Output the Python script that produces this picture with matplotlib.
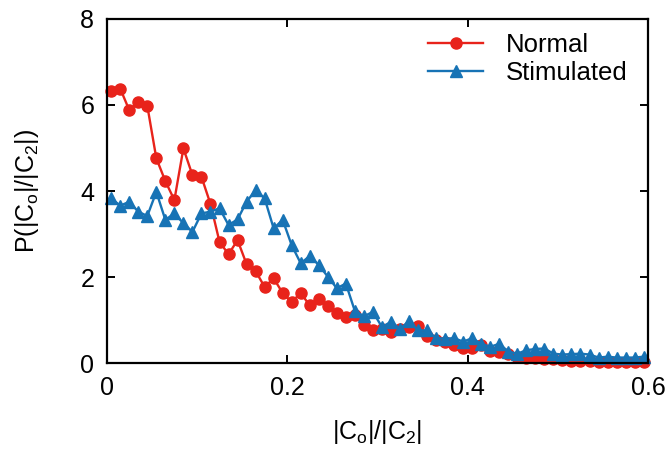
import numpy as np
import matplotlib.pyplot as plt

plt.rcParams['font.family'] = ['Liberation Sans', 'DejaVu Sans']
plt.rcParams['mathtext.fontset'] = 'custom'
plt.rcParams['mathtext.rm'] = 'Liberation Sans'
plt.rcParams['mathtext.it'] = 'Liberation Sans'

# bin centres of |Co|/|C2|
ratio = np.arange(0.005, 0.6, 0.01)

normal = [6.33, 6.38, 5.88, 6.06, 5.98, 4.76, 4.23, 3.79, 4.99, 4.37,
          4.33, 3.70, 2.82, 2.53, 2.86, 2.30, 2.14, 1.77, 1.97, 1.63,
          1.42, 1.63, 1.34, 1.50, 1.33, 1.17, 1.08, 1.11, 0.89, 0.76,
          0.80, 0.73, 0.80, 0.84, 0.86, 0.64, 0.54, 0.48, 0.42, 0.35,
          0.36, 0.42, 0.29, 0.27, 0.22, 0.15, 0.12, 0.13, 0.10, 0.09,
          0.07, 0.06, 0.05, 0.04, 0.03, 0.03, 0.02, 0.02, 0.02, 0.02]

stimulated = [3.83, 3.66, 3.75, 3.52, 3.42, 3.98, 3.33, 3.48, 3.25, 3.05,
              3.48, 3.52, 3.60, 3.21, 3.34, 3.75, 4.02, 3.83, 3.13, 3.33,
              2.74, 2.32, 2.49, 2.28, 2.01, 1.74, 1.85, 1.21, 1.09, 1.19,
              0.84, 0.96, 0.80, 0.97, 0.76, 0.76, 0.58, 0.57, 0.58, 0.50,
              0.58, 0.45, 0.38, 0.45, 0.27, 0.22, 0.30, 0.33, 0.34, 0.22,
              0.20, 0.21, 0.22, 0.20, 0.13, 0.15, 0.13, 0.13, 0.13, 0.15]

fig = plt.figure(figsize=(6.71, 4.5), dpi=100)
ax = fig.add_axes([0.159, 0.193, 0.807, 0.765])

ax.plot(ratio, normal, color='#e8231b', marker='o', markersize=8,
        linewidth=1.7, label='Normal', clip_on=False)
ax.plot(ratio, stimulated, color='#1773b5', marker='^', markersize=8,
        linewidth=1.7, label='Stimulated', clip_on=False)

ax.set_xlim(0, 0.6)
ax.set_ylim(0, 8)
ax.set_xticks([0, 0.2, 0.4, 0.6])
ax.set_xticklabels(['0', '0.2', '0.4', '0.6'])
ax.set_yticks([0, 2, 4, 6, 8])

for s in ax.spines.values():
    s.set_linewidth(1.6)
ax.tick_params(direction='in', top=True, right=True, length=6, width=1.4,
               labelsize=18, pad=9)

ax.set_xlabel('|C$_\\mathrm{o}$|/|C$_2$|', fontsize=18, labelpad=13)
ax.set_ylabel('P(|C$_\\mathrm{o}$|/|C$_2$|)', fontsize=18, labelpad=28)

ax.legend(loc='upper right', frameon=False, fontsize=18.5, handlelength=2.15,
          handletextpad=0.9, labelspacing=0.15, borderaxespad=0.3,
          bbox_to_anchor=(0.996, 1.01))

fig.savefig('out.png', dpi=100)
